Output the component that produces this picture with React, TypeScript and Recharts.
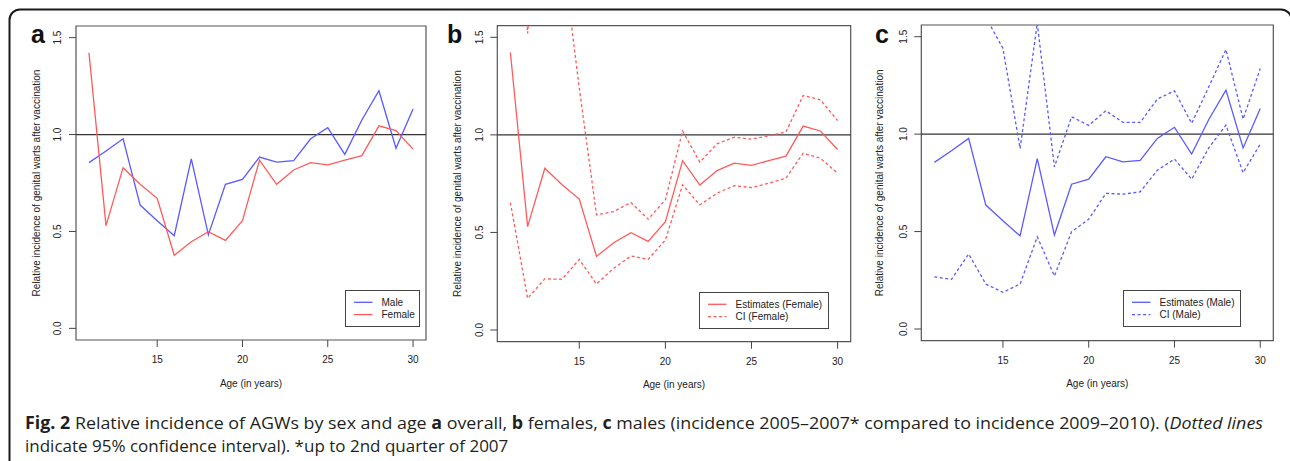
import React from 'react';
import { LineChart, Line, XAxis, YAxis, ReferenceLine, ReferenceArea } from 'recharts';

// ages on the x axis
const AGES = [11, 12, 13, 14, 15, 16, 17, 18, 19, 20, 21, 22, 23, 24, 25, 26, 27, 28, 29, 30];

// relative incidence estimates
const MALE_EST = [0.855, 0.915, 0.978, 0.636, 0.555, 0.478, 0.874, 0.482, 0.743, 0.769, 0.884, 0.858, 0.865, 0.978, 1.035, 0.898, 1.075, 1.226, 0.929, 1.132];
const FEMALE_EST = [1.422, 0.53, 0.829, 0.744, 0.671, 0.377, 0.447, 0.499, 0.454, 0.555, 0.868, 0.743, 0.817, 0.855, 0.844, 0.868, 0.891, 1.045, 1.02, 0.925];

// 95% confidence intervals (values above 1.5 run off the plot)
const FEMALE_CI_LOW = [0.653, 0.162, 0.262, 0.26, 0.362, 0.236, 0.316, 0.379, 0.362, 0.461, 0.744, 0.641, 0.701, 0.74, 0.73, 0.752, 0.778, 0.906, 0.88, 0.803];
const FEMALE_CI_HIGH = [3.1, 1.52, 2.64, 1.95, 1.24, 0.59, 0.607, 0.653, 0.568, 0.667, 1.02, 0.86, 0.954, 0.988, 0.978, 0.995, 1.015, 1.202, 1.18, 1.073];
const MALE_CI_LOW = [0.268, 0.255, 0.385, 0.231, 0.188, 0.231, 0.473, 0.272, 0.499, 0.563, 0.696, 0.692, 0.704, 0.815, 0.872, 0.769, 0.93, 1.046, 0.802, 0.949];
const MALE_CI_HIGH = [2.7, 3.3, 2.48, 1.6, 1.44, 0.926, 1.57, 0.832, 1.089, 1.045, 1.12, 1.06, 1.06, 1.18, 1.222, 1.055, 1.243, 1.434, 1.077, 1.337];

const X_TICKS = [15, 20, 25, 30];
const Y_TICKS = [0, 0.5, 1, 1.5];
const X_DOMAIN: [number, number] = [10.24, 30.76];
const Y_DOMAIN: [number, number] = [-0.06, 1.56];

const BLUE = '#5a5aff';
const RED = '#ff5a5a';
const INK = '#222';
const FONT = '"Liberation Sans", Arial, Helvetica, sans-serif';
const CAPTION_FONT = '"Open Sans", "Noto Sans", sans-serif';

const rows = AGES.map((age, i) => ({
  age,
  male: MALE_EST[i],
  female: FEMALE_EST[i],
  fLow: FEMALE_CI_LOW[i],
  fHigh: FEMALE_CI_HIGH[i],
  mLow: MALE_CI_LOW[i],
  mHigh: MALE_CI_HIGH[i],
}));

type Series = { key: string; color: string; dashed?: boolean };
type LegendItem = { label: string; color: string; dashed?: boolean };

interface PanelProps {
  left: number;
  plotLeft: number;
  plotRight: number;
  top: number;
  bottom: number;
  labelGap: number;
  series: Series[];
  legend: LegendItem[];
  legendBox: { x: number; y: number; w: number; h: number };
}

const W = 430;
const H = 400;

function Panel({ left, plotLeft, plotRight, top, bottom, labelGap, series, legend, legendBox }: PanelProps) {
  const yW = plotLeft - left;
  const mr = left + W - plotRight;
  const cx = (plotLeft + plotRight) / 2 - left;
  const midY = (top + bottom) / 2;
  const ylx = yW - labelGap;
  const ytx = yW - 18;

  return (
    <div style={{ position: 'absolute', left, top: 0, width: W, height: H }}>
      <LineChart width={W} height={H} data={rows} margin={{ top, right: mr, left: 0, bottom: 0 }}>
        <XAxis
          type="number"
          dataKey="age"
          domain={X_DOMAIN}
          ticks={X_TICKS}
          interval={0}
          allowDataOverflow
          height={H - bottom}
          axisLine={false}
          tickLine={{ stroke: '#444' }}
          tickSize={7}
          tick={(p: any) => (
            <text x={p.x} y={bottom + 19.5} textAnchor="middle" dominantBaseline="central" fontSize={10} fontFamily={FONT} fill={INK}>
              {p.payload.value}
            </text>
          )}
          label={() => (
            <text x={cx} y={bottom + 43} textAnchor="middle" dominantBaseline="central" fontSize={10} fontFamily={FONT} fill={INK}>
              Age (in years)
            </text>
          )}
        />
        <YAxis
          type="number"
          domain={Y_DOMAIN}
          ticks={Y_TICKS}
          interval={0}
          allowDataOverflow
          width={yW}
          axisLine={false}
          tickLine={{ stroke: '#444' }}
          tickSize={7}
          tick={(p: any) => (
            <text
              x={ytx}
              y={p.y}
              transform={`rotate(-90 ${ytx} ${p.y})`}
              textAnchor="middle"
              dominantBaseline="central"
              fontSize={10}
              fontFamily={FONT}
              fill={INK}
            >
              {Number(p.payload.value).toFixed(1)}
            </text>
          )}
          label={() => (
            <text
              x={ylx}
              y={midY}
              transform={`rotate(-90 ${ylx} ${midY})`}
              textAnchor="middle"
              dominantBaseline="central"
              fontSize={10}
              fontFamily={FONT}
              fill={INK}
            >
              Relative incidence of genital warts after vaccination
            </text>
          )}
        />
        <ReferenceLine y={1} stroke="#333" strokeWidth={1.2} />
        {series.map((s) => (
          <Line
            key={s.key}
            dataKey={s.key}
            type="linear"
            stroke={s.color}
            strokeWidth={1.3}
            strokeDasharray={s.dashed ? '3 2.5' : undefined}
            dot={false}
            activeDot={false}
            isAnimationActive={false}
          />
        ))}
        <ReferenceArea
          x1={X_DOMAIN[0]}
          x2={X_DOMAIN[1]}
          y1={Y_DOMAIN[0]}
          y2={Y_DOMAIN[1]}
          ifOverflow="visible"
          fill="none"
          stroke="#555"
          strokeWidth={1.2}
        />
      </LineChart>
      <svg
        width={legendBox.w}
        height={legendBox.h}
        style={{ position: 'absolute', left: legendBox.x - left, top: legendBox.y, overflow: 'visible' }}
      >
        <rect x={0.5} y={0.5} width={legendBox.w - 1} height={legendBox.h - 1} fill="#fff" stroke="#444" strokeWidth={1} />
        {legend.map((it, i) => {
          const y = 12.3 + i * 12.3;
          return (
            <g key={it.label}>
              <line x1={9} x2={27.5} y1={y} y2={y} stroke={it.color} strokeWidth={1.3} strokeDasharray={it.dashed ? '3 2.5' : undefined} />
              <text x={36.5} y={y} dominantBaseline="central" fontSize={10} fontFamily={FONT} fill={INK}>
                {it.label}
              </text>
            </g>
          );
        })}
      </svg>
    </div>
  );
}

export default function App() {
  return (
    <div style={{ position: 'absolute', left: 0, top: 0, width: 1290, height: 461, background: '#fff', overflow: 'hidden' }}>
      <Panel
        left={0}
        plotLeft={76}
        plotRight={426}
        top={26}
        bottom={340}
        labelGap={40}
        series={[
          { key: 'male', color: BLUE },
          { key: 'female', color: RED },
        ]}
        legend={[
          { label: 'Male', color: BLUE },
          { label: 'Female', color: RED },
        ]}
        legendBox={{ x: 345, y: 290, w: 75, h: 37 }}
      />
      <Panel
        left={430}
        plotLeft={497.3}
        plotRight={850.7}
        top={25.6}
        bottom={341.7}
        labelGap={40}
        series={[
          { key: 'female', color: RED },
          { key: 'fLow', color: RED, dashed: true },
          { key: 'fHigh', color: RED, dashed: true },
        ]}
        legend={[
          { label: 'Estimates (Female)', color: RED },
          { label: 'CI (Female)', color: RED, dashed: true },
        ]}
        legendBox={{ x: 699.3, y: 291.7, w: 130, h: 37 }}
      />
      <Panel
        left={860}
        plotLeft={921.3}
        plotRight={1273.3}
        top={25}
        bottom={340.7}
        labelGap={41.5}
        series={[
          { key: 'male', color: BLUE },
          { key: 'mLow', color: BLUE, dashed: true },
          { key: 'mHigh', color: BLUE, dashed: true },
        ]}
        legend={[
          { label: 'Estimates (Male)', color: BLUE },
          { label: 'CI (Male)', color: BLUE, dashed: true },
        ]}
        legendBox={{ x: 1123.3, y: 290, w: 118, h: 37 }}
      />
      <svg width={1290} height={461} style={{ position: 'absolute', left: 0, top: 0, pointerEvents: 'none' }}>
        <path d="M 9.5 470 V 20 A 10.5 10.5 0 0 1 20 9.5 H 1281 A 10.5 10.5 0 0 1 1291.5 20 V 470" fill="none" stroke="#1a1a1a" strokeWidth={2} />
        <text x={31} y={43} fontSize={25} fontWeight="bold" fontFamily={FONT} fill="#111">a</text>
        <text x={447} y={43} fontSize={25} fontWeight="bold" fontFamily={FONT} fill="#111">b</text>
        <text x={875} y={43} fontSize={25} fontWeight="bold" fontFamily={FONT} fill="#111">c</text>
        <text x={25} y={429} fontSize={17} fontFamily={CAPTION_FONT} fill="#231f20" textLength={1238} lengthAdjust="spacingAndGlyphs">
          <tspan fontWeight="bold">Fig. 2</tspan> Relative incidence of AGWs by sex and age <tspan fontWeight="bold">a</tspan> overall, <tspan fontWeight="bold">b</tspan> females, <tspan fontWeight="bold">c</tspan> males (incidence 2005–2007* compared to incidence 2009–2010). (<tspan fontStyle="italic">Dotted lines</tspan>
        </text>
        <text x={25} y={452} fontSize={17} fontFamily={CAPTION_FONT} fill="#231f20">
          indicate 95% confidence interval). *up to 2nd quarter of 2007
        </text>
      </svg>
    </div>
  );
}
